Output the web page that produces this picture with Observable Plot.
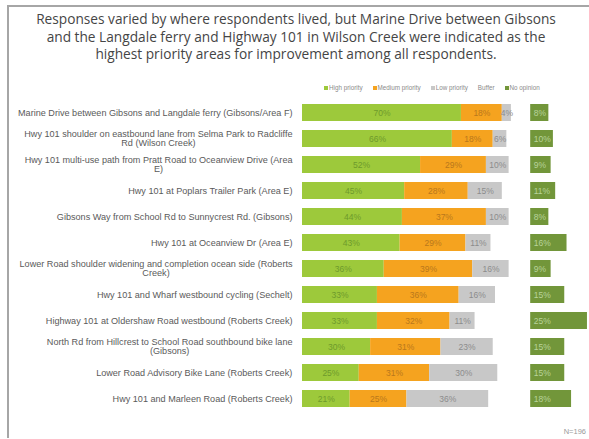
<!DOCTYPE html>
<html>
<head>
<meta charset="utf-8">
<script src="https://cdn.jsdelivr.net/npm/d3@7"></script>
<script src="https://cdn.jsdelivr.net/npm/@observablehq/plot@0.6"></script>
<style>
  html, body { margin: 0; padding: 0; background: #fff; }
  #wrap { position: relative; width: 589px; height: 439px; overflow: hidden; }
  #frame { position: absolute; left: 7px; top: 5px; width: 600px; height: 431px;
           border-left: 2px solid #a6a6a6; border-top: 2px solid #a6a6a6; }
  #title { position: absolute; left: 0; width: 592px; top: 10px; text-align: center;
           font-family: "Open Sans", sans-serif; font-size: 13.7px; line-height: 17.5px; color: #454545; }
  #legend { position: absolute; left: 324px; top: 84px; display: flex; gap: 10px;
            font-family: "Liberation Sans", Arial, sans-serif; font-size: 6.3px; color: #8a8a8a; }
  #legend span.sw { display: inline-block; width: 4px; height: 4px; margin-right: 1px; vertical-align: 0px; }
  #note { position: absolute; right: 3px; top: 427px; font-family: "Liberation Sans", Arial, sans-serif;
          font-size: 7.5px; color: #9a9a9a; }
  #chart { position: absolute; left: 0; top: 0; }
</style>
</head>
<body>
<div id="wrap">
  <div id="frame"></div>
  <div id="chart"></div>
  <div id="title"></div>
  <div id="legend"></div>
  <div id="note"></div>
</div>
<script>
// ---- data ----
const titleLines = [
  "Responses varied by where respondents lived, but Marine Drive between Gibsons",
  "and the Langdale ferry and Highway 101 in Wilson Creek were indicated as the",
  "highest priority areas for improvement among all respondents."
];
const categories = [
  "Marine Drive between Gibsons and Langdale ferry (Gibsons/Area F)",
  "Hwy 101 shoulder on eastbound lane from Selma Park to Radcliffe\nRd (Wilson Creek)",
  "Hwy 101 multi-use path from Pratt Road to Oceanview Drive (Area\nE)",
  "Hwy 101 at Poplars Trailer Park (Area E)",
  "Gibsons Way from School Rd to Sunnycrest Rd. (Gibsons)",
  "Hwy 101 at Oceanview Dr (Area E)",
  "Lower Road shoulder widening and completion ocean side (Roberts\nCreek)",
  "Hwy 101 and Wharf westbound cycling (Sechelt)",
  "Highway 101 at Oldershaw Road westbound (Roberts Creek)",
  "North Rd from Hillcrest to School Road southbound bike lane\n(Gibsons)",
  "Lower Road Advisory Bike Lane (Roberts Creek)",
  "Hwy 101 and Marleen Road (Roberts Creek)"
];
const highPriority   = [70, 66, 52, 45, 44, 43, 36, 33, 33, 30, 25, 21];
const mediumPriority = [18, 18, 29, 28, 37, 29, 39, 36, 32, 31, 31, 25];
const lowPriority    = [4, 6, 10, 15, 10, 11, 16, 16, 11, 23, 30, 36];
const noOpinion      = [8, 10, 9, 11, 8, 16, 9, 15, 25, 15, 15, 18];
const legendNames = ["High priority", "Medium priority", "Low priority", "Buffer", "No opinion"];
const seriesNames = ["High priority", "Medium priority", "Low priority", "No opinion"];
const seriesColors = ["#9dc93b", "#f5a31f", "#c8c8c8", "#72963a"];
const textColors = ["#6e9a2c", "#b9781c", "#8c8c8c", "#b8d39a"];
const noteText = "N=196";

// ---- layout constants ----
const W = 589, H = 439;
const mL = 302, mR = 0, mT = 96, mB = 24;
const buffer = 100.5;     // offset of the "No opinion" column (in % units)
const xMax = 126.4;
const labelGap = 10;
const labelFont = 9.1;

// ---- build table ----
const segs = [];
categories.forEach((c, i) => {
  const vals = [highPriority[i], mediumPriority[i], lowPriority[i]];
  let acc = 0;
  vals.forEach((v, j) => {
    segs.push({category: c, series: seriesNames[j], value: v, x1: acc, x2: acc + v, mid: acc + v / 2});
    acc += v;
  });
  const n = noOpinion[i];
  segs.push({category: c, series: "No opinion", value: n, x1: buffer, x2: buffer + n, mid: buffer + n / 2});
});

// label placement: block right-aligned, lines centered within block
const ctx = document.createElement("canvas").getContext("2d");
ctx.font = `${labelFont}px "Liberation Sans"`;
const k = (W - mL - mR) / xMax;
const labelX = (c) => {
  const wmax = d3.max(c.split("\n"), s => ctx.measureText(s).width);
  return -(labelGap + wmax / 2) / k;
};

const marks = [
  Plot.barX(segs, {x1: "x1", x2: "x2", y: "category", fill: "series"}),
  ...seriesNames.slice(0, 3).map((s, j) =>
    Plot.text(segs.filter(d => d.series === s), {
      x: "mid", y: "category", text: d => d.value + "%",
      fill: textColors[j], fontSize: 8.5, fontFamily: "Liberation Sans"
    })
  ),
  Plot.text(segs.filter(d => d.series === "No opinion"), {
    x: "x1", y: "category", text: d => d.value + "%", textAnchor: "start", dx: 3,
    fill: textColors[3], fontSize: 8.5, fontFamily: "Liberation Sans"
  }),
  Plot.text(categories, {
    x: labelX, y: d => d, text: d => d, textAnchor: "middle",
    fill: "#5a5a5a", fontSize: labelFont, fontFamily: "Liberation Sans", lineHeight: 1.0
  })
];

const chart = Plot.plot({
  width: W, height: H,
  marginLeft: mL, marginRight: mR, marginTop: mT, marginBottom: mB,
  style: {background: "transparent", overflow: "visible"},
  x: {domain: [0, xMax], axis: null},
  y: {domain: categories, axis: null, paddingInner: 0.33, paddingOuter: 0.165},
  color: {domain: seriesNames, range: seriesColors},
  marks
});
document.getElementById("chart").appendChild(chart);

document.getElementById("title").innerHTML = titleLines.join("<br>");
const legend = document.getElementById("legend");
legendNames.forEach(name => {
  const item = document.createElement("span");
  const idx = seriesNames.indexOf(name);
  if (idx >= 0) {
    const sw = document.createElement("span");
    sw.className = "sw";
    sw.style.background = seriesColors[idx];
    item.appendChild(sw);
  }
  item.appendChild(document.createTextNode(name));
  legend.appendChild(item);
});
document.getElementById("note").textContent = noteText;
</script>
</body>
</html>
